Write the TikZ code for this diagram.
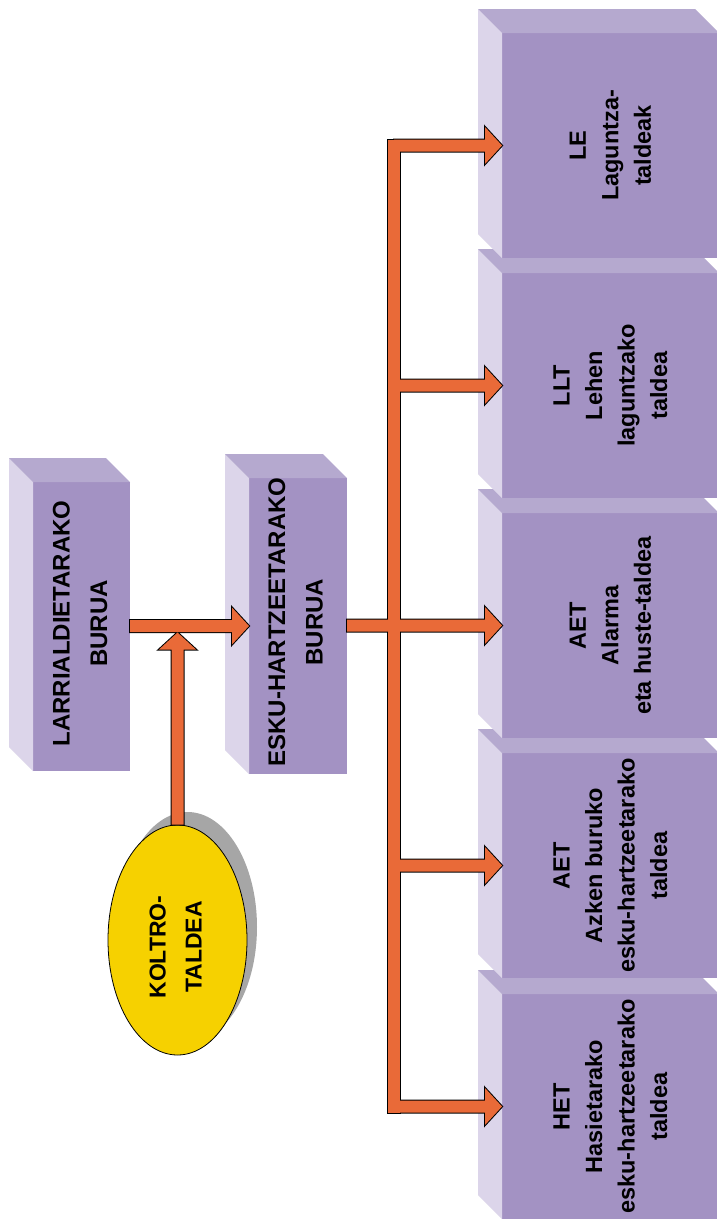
\documentclass[tikz,border=0pt]{standalone}
\usepackage{fontspec}
\setmainfont{Liberation Sans}
\usetikzlibrary{calc,shapes.geometric}
\definecolor{frontc}{RGB}{163,146,195}
\definecolor{topc}{RGB}{181,169,207}
\definecolor{sidec}{RGB}{220,213,234}
\definecolor{arrc}{RGB}{233,106,56}
\definecolor{ellc}{RGB}{246,209,0}
\definecolor{shadc}{RGB}{166,166,166}
\newcommand\boxfaces[1]{%
  \fill[sidec] (#1.north west) -- ++(-24,-24) -- ($(#1.south west)+(-24,-24)$) -- (#1.south west) -- cycle;
  \fill[topc] (#1.north west) -- ++(-24,-24) -- ($(#1.north east)+(-24,-24)$) -- (#1.north east) -- cycle;}
\newcommand\harr[3]{%
  \path[#1] let \p1=#2, \p2=#3 in (\x1,\y2+6pt) -- (\x2-17pt,\y2+6pt) -- (\x2-17pt,\y2+18.5pt) -- (\x2,\y2) -- (\x2-17pt,\y2-18.5pt) -- (\x2-17pt,\y2-6pt) -- (\x1,\y2-6pt) -- cycle;}
\newcommand\varr[3]{%
  \path[#1] let \p1=#2, \p2=#3 in (\x2-6pt,\y1) -- (\x2-6pt,\y2-17pt) -- (\x2-18.5pt,\y2-17pt) -- (\x2,\y2) -- (\x2+18.5pt,\y2-17pt) -- (\x2+6pt,\y2-17pt) -- (\x2+6pt,\y1) -- cycle;}
\newcommand\allarrows[1]{%
  \harr{#1}{(b1.east)}{(b2.west)}
  \varr{#1}{(ell.north)}{($(ell.north |- b1.east)+(0,6)$)}
  \path[#1] ($(busx |- le.west)+(-6,-6)$) rectangle ($(busx |- het.west)+(6,6)$);
  \harr{#1}{(busx |- le.west)}{(le.west)}
  \harr{#1}{(busx |- llt.west)}{(llt.west)}
  \harr{#1}{(busx |- aetz.west)}{(aetz.west)}
  \harr{#1}{(busx |- het.west)}{(het.west)}
  \harr{#1}{(b2.east)}{(aet.west)}}
\begin{document}
\begin{tikzpicture}[x=1pt,y=-1pt,
  front/.style={fill=frontc, inner sep=0pt, outer sep=0pt},
  rbox/.style={front, minimum width=217pt, minimum height=225pt},
  lbl/.style={rotate=90, align=center, inner sep=0pt, font=\bfseries\fontsize{24}{37.5}\selectfont},
  rlbl/.style={rotate=90, align=center, inner sep=0pt, font=\bfseries\fontsize{23.5}{32.5}\selectfont},
  elbl/.style={rotate=90, align=center, inner sep=0pt, font=\bfseries\fontsize{23}{36}\selectfont},
  arrline/.style={draw=black, line width=2pt, fill=arrc},
  arrfill/.style={fill=arrc}]
\path[use as bounding box, fill=white] (0,0) rectangle (717,1219);
\clip (0,0) rectangle (717,1219);
% right column of boxes, drawn from bottom to top
\node[rbox] (het) at (610.5,1106.5) {}; \boxfaces{het}
\node[rbox] (aetz) at (610.5,865.5) {}; \boxfaces{aetz}
\node[rbox] (aet) at (610.5,625.5) {}; \boxfaces{aet}
\node[rbox] (llt) at (610.5,385.5) {}; \boxfaces{llt}
\node[rbox] (le) at (610.5,145.5) {}; \boxfaces{le}
% left boxes
\node[front, minimum width=97pt, minimum height=289pt] (b1) at (81.5,626.5) {}; \boxfaces{b1}
\node[front, minimum width=98pt, minimum height=296pt] (b2) at (298,626) {}; \boxfaces{b2}
% texts
\node[lbl] (b1t) at ($(b1.center)+(-1.5,-3)$) {LARRIALDIETARAKO\\BURUA};
\node[lbl] (b2t) at ($(b2.center)+(-2.5,-4)$) {ESKU-HARTZEETARAKO\\BURUA};
\node[rlbl] (let) at (le.center) {LE\\Laguntza-\\taldeak};
\node[rlbl] (lltt) at (llt.center) {LLT\\Lehen\\laguntzako\\taldea};
\node[rlbl] (aett) at (aet.center) {AET\\Alarma\\eta huste-taldea};
\node[rlbl] (aetzt) at (aetz.center) {AET\\Azken buruko\\esku-hartzeetarako\\taldea};
\node[rlbl] (hett) at (het.center) {HET\\Hasietarako\\esku-hartzeetarako\\taldea};
% ellipse
\node[ellipse, fill=shadc, minimum width=139pt, minimum height=230pt, inner sep=0pt] (ellsh) at (187.5,927) {};
\node[ellipse, draw=black, line width=0.8pt, fill=ellc, minimum width=139pt, minimum height=230pt, inner sep=0pt] (ell) at (177.5,940) {};
\node[elbl] (ellt) at ($(ell.center)+(-2,7)$) {KOLTRO-\\TALDEA};
% arrows
\coordinate (busx) at (394,0);
\allarrows{arrline}
\allarrows{arrfill}
\end{tikzpicture}
\end{document}
